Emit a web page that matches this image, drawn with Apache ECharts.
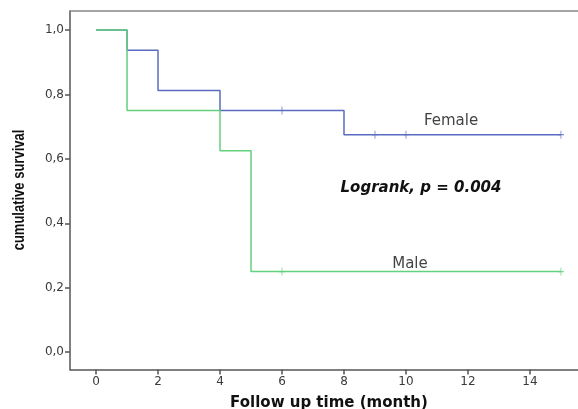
<!DOCTYPE html>
<html>
<head>
<meta charset="utf-8">
<script src="https://cdn.jsdelivr.net/npm/echarts@6/dist/echarts.min.js"></script>
<style>html,body{margin:0;padding:0;background:#fff;}#c{width:578px;height:409px;}</style>
</head>
<body>
<div id="c"></div>
<script>
// Kaplan-Meier data (step points: time, survival after event)
const femaleTimes = [0, 1, 2, 4, 8, 15];
const femaleSurv  = [1.0, 0.9375, 0.8125, 0.75, 0.675, 0.675];
const maleTimes   = [0, 1, 4, 5, 15];
const maleSurv    = [1.0, 0.75, 0.625, 0.25, 0.25];
// censored observations
const femaleCensorTimes = [6, 9, 10, 15];
const femaleCensorSurv  = [0.75, 0.675, 0.675, 0.675];
const maleCensorTimes   = [6, 15];
const maleCensorSurv    = [0.25, 0.25];
// tick labels
const xTicks = [0, 2, 4, 6, 8, 10, 12, 14];
const yTicks = [0, 0.2, 0.4, 0.6, 0.8, 1.0];

const blue = '#5a6cc2';
const green = '#63d07c';
const axisColor = '#555';
const labelColor = '#3a3a3a';

const zip = (a, b) => a.map((v, i) => [v, b[i]]);
const chart = echarts.init(document.getElementById('c'), null, {renderer: 'canvas'});
const censorSymbol = 'path://M3,0H4V3H7V4H4V7H3V4H0V3H3Z';

chart.setOption({
  animation: false,
  backgroundColor: '#fff',
  grid: {left: 70, top: 11, right: 0, bottom: 39.5, containLabel: false},
  xAxis: [{
    type: 'value', min: -0.84, max: 15.55, position: 'bottom',
    splitLine: {show: false},
    axisLine: {show: true, onZero: false, lineStyle: {color: axisColor, width: 1.5}},
    axisTick: {show: true, inside: false, length: 5, customValues: xTicks, lineStyle: {color: axisColor, width: 1.5}},
    axisLabel: {customValues: xTicks, color: labelColor, fontSize: 12, margin: 6, fontFamily: 'DejaVu Sans'}
  }, {
    type: 'value', min: -0.84, max: 15.55, position: 'top',
    splitLine: {show: false},
    axisLine: {show: true, onZero: false, lineStyle: {color: '#888', width: 1.5}},
    axisTick: {show: false}, axisLabel: {show: false}
  }],
  yAxis: {
    type: 'value', min: -0.054, max: 1.059,
    splitLine: {show: false},
    axisLine: {show: true, onZero: false, lineStyle: {color: axisColor, width: 1.5}},
    axisTick: {show: true, inside: false, length: 5, customValues: yTicks, lineStyle: {color: axisColor, width: 1.5}},
    axisLabel: {customValues: yTicks, color: labelColor, fontSize: 12, margin: 6, fontFamily: 'DejaVu Sans',
      formatter: v => v.toFixed(1).replace('.', ',')}
  },
  series: [
    {type: 'line', step: 'end', data: zip(femaleTimes, femaleSurv), showSymbol: false,
      lineStyle: {color: blue, width: 1.5}, z: 2},
    {type: 'line', step: 'end', data: zip(maleTimes, maleSurv), showSymbol: false,
      lineStyle: {color: green, width: 1.5}, z: 3},
    {type: 'scatter', data: zip(femaleCensorTimes, femaleCensorSurv), symbol: censorSymbol, symbolSize: [6, 8],
      itemStyle: {color: blue}, z: 4},
    {type: 'scatter', data: zip(maleCensorTimes, maleCensorSurv), symbol: censorSymbol, symbolSize: [6, 8],
      itemStyle: {color: green}, z: 4}
  ],
  graphic: [
    {type: 'text', x: 451, y: 121, style: {text: 'Female', fill: '#444', font: '15px "DejaVu Sans"', align: 'center', verticalAlign: 'middle'}},
    {type: 'text', x: 410, y: 264, style: {text: 'Male', fill: '#444', font: '15px "DejaVu Sans"', align: 'center', verticalAlign: 'middle'}},
    {type: 'text', x: 421, y: 188, style: {text: 'Logrank, p = 0.004', fill: '#111', font: 'italic bold 15px "DejaVu Sans"', align: 'center', verticalAlign: 'middle'}},
    {type: 'text', x: 329, y: 403, style: {text: 'Follow up time (month)', fill: '#111', font: 'bold 15px "DejaVu Sans"', align: 'center', verticalAlign: 'middle'}},
    {type: 'text', x: 20, y: 190, rotation: Math.PI / 2, scaleY: 1.25, style: {text: 'cumulative survival', fill: '#111', font: 'bold 13px "Liberation Sans Narrow", "Liberation Sans"', align: 'center', verticalAlign: 'middle'}}
  ]
});
</script>
</body>
</html>
